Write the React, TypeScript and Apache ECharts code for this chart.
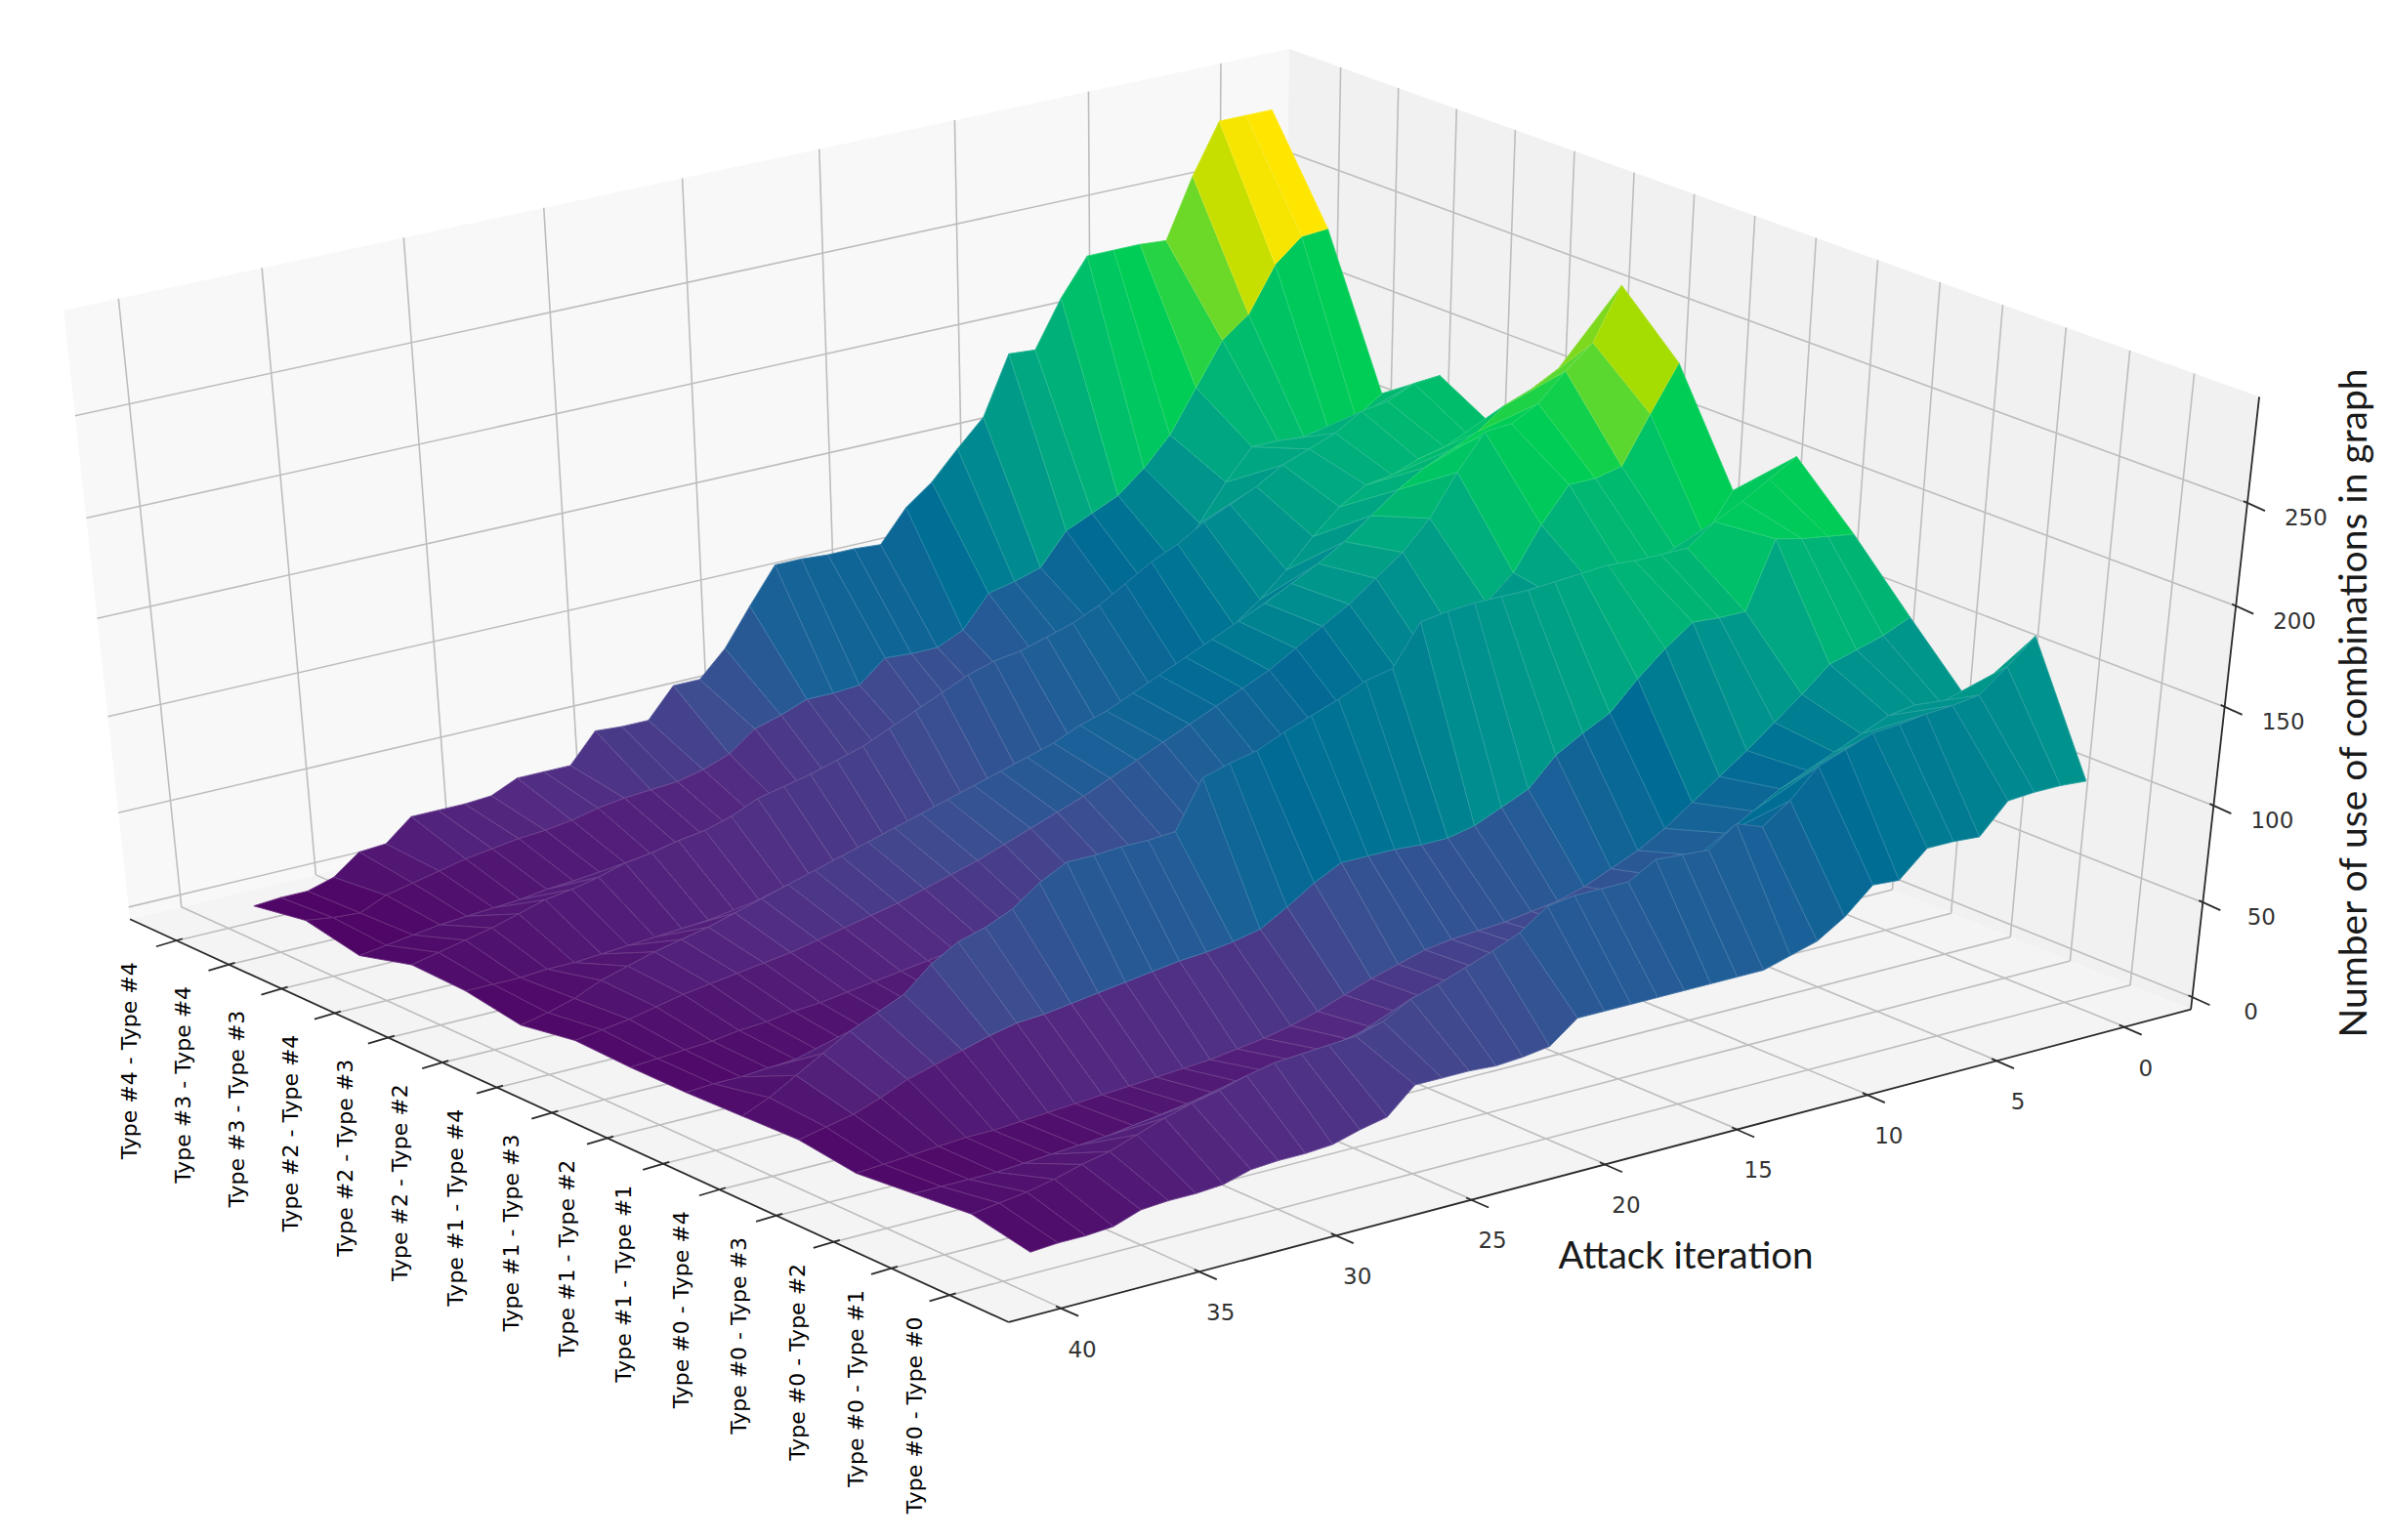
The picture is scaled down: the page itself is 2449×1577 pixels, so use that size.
import React, { useEffect, useRef } from "react";
import * as echarts from "echarts";

const categories = [
  "Type #0 - Type #0", "Type #0 - Type #1", "Type #0 - Type #2", "Type #0 - Type #3", "Type #0 - Type #4",
  "Type #1 - Type #1", "Type #1 - Type #2", "Type #1 - Type #3", "Type #1 - Type #4",
  "Type #2 - Type #2", "Type #2 - Type #3", "Type #2 - Type #4",
  "Type #3 - Type #3", "Type #3 - Type #4", "Type #4 - Type #4",
];
const iterTicks = [0, 5, 10, 15, 20, 25, 30, 35, 40];
const zTicks = [0, 50, 100, 150, 200, 250];

// Number of use per attack iteration (0..39), one list per combination
const c00 = [109,110,110,109,94,95,95,82,83,70,61,57,53,53,53,53,53,53,53,53,42,40,39,40,40,40,27,24,20,19,19,18,14,13,13,12,7,6,6,5];
const c01 = [170,158,147,145,144,142,141,136,131,117,107,112,102,103,104,96,96,96,94,84,78,73,68,64,56,52,51,50,49,46,42,39,35,30,25,22,18,15,13,11];
const c02 = [127,128,130,128,122,116,110,104,96,88,80,72,66,60,56,54,52,50,48,44,40,36,32,30,28,26,24,22,20,18,16,14,12,11,10,9,8,8,8,8];
const c03 = [156,150,146,142,130,119,108,98,88,78,70,64,58,54,52,50,49,48,46,42,38,33,28,24,21,19,17,16,15,14,13,12,11,10,9,9,8,7,6,5];
const c04 = [186,188,190,193,160,160,161,151,139,125,118,110,96,90,84,81,81,82,82,82,75,66,58,55,53,52,50,48,46,44,42,41,38,34,30,26,20,15,12,9];
const c11 = [213,205,197,190,180,180,180,181,180,179,178,178,178,177,175,155,152,146,141,136,130,127,123,99,98,98,97,97,90,80,74,70,62,50,44,38,30,22,14,8];
const c12 = [185,165,160,158,155,150,146,136,124,116,108,100,94,88,82,76,72,66,60,56,52,48,44,38,34,29,26,22,20,18,16,14,12,11,10,10,9,8,8,7];
const c13 = [237,215,192,189,189,172,151,139,122,114,108,100,94,88,82,76,70,65,60,55,50,46,42,38,35,32,29,26,24,22,20,18,16,15,13,12,10,9,8,7];
const c14 = [264,239,228,215,208,207,190,170,156,146,136,128,120,112,106,100,94,88,82,76,70,65,60,55,50,46,42,38,35,32,29,26,24,22,20,18,15,12,10,8];
const c22 = [212,205,200,190,184,178,170,160,150,142,135,128,122,116,110,104,98,92,88,82,78,74,70,66,62,58,54,50,46,42,38,34,30,27,24,20,16,10,6,3];
const c23 = [171,170,168,165,160,158,150,138,124,112,102,92,84,76,68,62,56,50,45,40,36,32,28,26,24,22,20,18,16,15,14,13,12,11,10,9,9,8,8,8];
const c24 = [187,186,180,178,170,165,160,152,146,140,132,126,118,110,104,100,96,94,90,84,78,72,66,62,58,55,52,46,42,40,37,35,31,28,26,22,18,15,12,9];
const c33 = [167,158,153,154,155,155,140,122,105,95,88,80,72,66,58,52,47,44,40,36,32,28,26,24,22,20,19,18,16,15,14,13,12,10,9,8,7,5,3,1];
const c34 = [239,238,227,205,195,174,153,139,128,122,116,100,96,93,77,71,71,72,61,60,60,55,51,41,36,33,32,31,29,26,24,23,21,19,16,13,10,4,5,7];
const c44 = [287,287,287,263,234,235,235,235,217,194,195,166,153,139,129,113,114,114,115,115,97,78,65,65,50,50,51,36,36,36,30,29,29,29,18,17,7,3,3,2];
const rows = [c00, c01, c02, c03, c04, c11, c12, c13, c14, c22, c23, c24, c33, c34, c44];

const W = 2449, H = 1577;
const iterRange = [-2.6, 41.9];
const comboRange = [-1.0, 14.9];
const zRange = [-6.5, 300.5];

// camera calibration: unit-box corner -> page pixel
const anchors = [
  [1, 1, 0, 133, 941], [1, 0, 0, 1033, 1354], [0, 0, 0, 2243, 1034],
  [1, 1, 1, 65, 318], [0, 0, 1, 2313, 406], [0, 1, 1, 1320, 50],
];

function solveCamera(): number[] {
  const n = 11;
  const A: number[][] = Array.from({ length: n }, () => new Array(n + 1).fill(0));
  const add = (r: number[], b: number) => {
    for (let i = 0; i < n; i++) {
      for (let j = 0; j < n; j++) A[i][j] += r[i] * r[j];
      A[i][n] += r[i] * b;
    }
  };
  for (const [X, Y, Z, px, py] of anchors) {
    const u = px / 1000, v = py / 1000;
    add([X, Y, Z, 1, 0, 0, 0, 0, -u * X, -u * Y, -u * Z], u);
    add([0, 0, 0, 0, X, Y, Z, 1, -v * X, -v * Y, -v * Z], v);
  }
  for (let i = 0; i < n; i++) {
    let m = i;
    for (let k = i + 1; k < n; k++) if (Math.abs(A[k][i]) > Math.abs(A[m][i])) m = k;
    [A[i], A[m]] = [A[m], A[i]];
    for (let k = 0; k < n; k++) {
      if (k === i) continue;
      const f = A[k][i] / A[i][i];
      for (let j = i; j <= n; j++) A[k][j] -= f * A[i][j];
    }
  }
  return A.map((r, i) => r[n] / r[i]);
}
const cam = solveCamera();

const frac = (v: number, r: number[]) => (v - r[0]) / (r[1] - r[0]);
function boxToPx(X: number, Y: number, Z: number): [number, number, number] {
  const w = cam[8] * X + cam[9] * Y + cam[10] * Z + 1;
  return [
    (1000 * (cam[0] * X + cam[1] * Y + cam[2] * Z + cam[3])) / w,
    (1000 * (cam[4] * X + cam[5] * Y + cam[6] * Z + cam[7])) / w,
    w,
  ];
}
const project = (iter: number, combo: number, z: number) =>
  boxToPx(frac(iter, iterRange), frac(combo, comboRange), frac(z, zRange));

const depthSign = boxToPx(0, 1, 0)[2] > boxToPx(1, 0, 0)[2] ? 1 : -1;

// saturated viridis-like ramp as seen in the picture
const ramp: [number, string][] = [
  [0, "#4f0565"], [0.1, "#532a82"], [0.2, "#3e4c90"], [0.3, "#1c6098"], [0.4, "#006c95"], [0.5, "#008f8f"],
  [0.6, "#00aa80"], [0.7, "#00c464"], [0.77, "#00cf52"], [0.83, "#5cd830"], [0.87, "#7ad820"], [0.91, "#a8dc00"],
  [0.94, "#d0e000"], [1, "#ffe600"],
];
const hex = (s: string) => [1, 3, 5].map((i) => parseInt(s.slice(i, i + 2), 16));
function rampColor(t: number): number[] {
  const v = Math.max(0, Math.min(1, t));
  let k = 0;
  while (k < ramp.length - 2 && v > ramp[k + 1][0]) k++;
  const a = hex(ramp[k][1]), b = hex(ramp[k + 1][1]);
  const f = (v - ramp[k][0]) / (ramp[k + 1][0] - ramp[k][0]);
  return a.map((x, i) => x + (b[i] - x) * f);
}
const css = (c: number[]) => `rgb(${c.map((v) => Math.round(v)).join(",")})`;

type Facet = { i: number; c: number; avg: number; depth: number };
function buildFacets(): Facet[] {
  const out: Facet[] = [];
  for (let c = 0; c < rows.length - 1; c++) {
    for (let i = 0; i < rows[c].length - 1; i++) {
      const zs = [rows[c][i], rows[c][i + 1], rows[c + 1][i + 1], rows[c + 1][i]];
      const avg = (zs[0] + zs[1] + zs[2] + zs[3]) / 4;
      const corners = [project(i, c, zs[0]), project(i + 1, c, zs[1]), project(i + 1, c + 1, zs[2]), project(i, c + 1, zs[3])];
      out.push({ i, c, avg, depth: corners.reduce((s, p) => s + p[2], 0) / 4 });
    }
  }
  return out.sort((a, b) => depthSign * (b.depth - a.depth));
}

type Seg = [number, number, number, number];
function gridSegments(): Seg[] {
  const segs: Seg[] = [];
  const push = (a: number[], b: number[]) => segs.push([a[0], a[1], b[0], b[1]]);
  const [i0, i1] = iterRange, [c0, c1] = comboRange, [z0, z1] = zRange;
  for (const t of iterTicks) {
    push(project(t, c0, z0), project(t, c1, z0));
    push(project(t, c1, z0), project(t, c1, z1));
  }
  categories.forEach((_, c) => {
    push(project(i1, c, z0), project(i0, c, z0));
    push(project(i0, c, z0), project(i0, c, z1));
  });
  for (const t of zTicks) {
    push(project(i1, c1, t), project(i0, c1, t));
    push(project(i0, c1, t), project(i0, c0, t));
  }
  return segs;
}

function axisSegments(): Seg[] {
  const segs: Seg[] = [];
  const [i0, i1] = iterRange, [c0, c1] = comboRange, [z0, z1] = zRange;
  const line = (a: number[], b: number[]) => segs.push([a[0], a[1], b[0], b[1]]);
  line(project(i1, c1, z0), project(i1, c0, z0));
  line(project(i1, c0, z0), project(i0, c0, z0));
  line(project(i0, c0, z0), project(i0, c0, z1));
  categories.forEach((_, c) => {
    const p = project(i1, c, z0);
    segs.push([p[0] - 21, p[1] + 6, p[0] + 6, p[1] - 2]);
  });
  iterTicks.forEach((t) => {
    const p = project(t, c0, z0);
    segs.push([p[0] - 6, p[1] - 2, p[0] + 17, p[1] + 8]);
  });
  zTicks.forEach((t) => {
    const p = project(i0, c0, t);
    segs.push([p[0] - 4, p[1] - 2, p[0] + 18, p[1] + 8]);
  });
  return segs;
}

function labels() {
  const font = "DejaVu Sans";
  const out: any[] = [];
  categories.forEach((name, c) => {
    const p = project(iterRange[1], c, zRange[0]);
    out.push({
      type: "text", x: p[0] - 36 - (c / 14) * 12, y: p[1] + 123, rotation: Math.PI / 2,
      style: { text: name, fontFamily: font, fontSize: 22, fill: "#000", textAlign: "center", textVerticalAlign: "middle" },
    });
  });
  iterTicks.forEach((t) => {
    const p = project(t, comboRange[0], zRange[0]);
    out.push({ type: "text", x: p[0] + 21, y: p[1] + 42, style: { text: String(t), fontFamily: font, fontSize: 23, fill: "#333", textAlign: "center", textVerticalAlign: "middle" } });
  });
  zTicks.forEach((t) => {
    const p = project(iterRange[0], comboRange[0], t);
    out.push({ type: "text", x: p[0] + 60, y: p[1] + 15, style: { text: String(t), fontFamily: font, fontSize: 23, fill: "#333", textAlign: "center", textVerticalAlign: "middle" } });
  });
  out.push({ type: "text", x: 1726, y: 1284, style: { text: "Attack iteration", fontFamily: "Lato", fontSize: 38.5, fill: "#1a1a1a", textAlign: "center", textVerticalAlign: "middle" } });
  out.push({ type: "text", x: 2408, y: 720, rotation: Math.PI / 2, style: { text: "Number of use of combinations in graph", fontFamily: "Lato", fontSize: 39, fill: "#1a1a1a", textAlign: "center", textVerticalAlign: "middle" } });
  return out;
}

export default function App() {
  const ref = useRef<HTMLDivElement>(null);
  useEffect(() => {
    document.body.style.margin = "0";
    document.body.style.overflow = "hidden";
    const chart = echarts.init(ref.current!, undefined, { renderer: "svg" });
    const [i0, i1] = iterRange, [c0, c1] = comboRange, [z0, z1] = zRange;
    const panes = [
      { pts: [[i1, c1, z0], [i0, c1, z0], [i0, c1, z1], [i1, c1, z1]], fill: "#f8f8f8" },
      { pts: [[i0, c1, z0], [i0, c0, z0], [i0, c0, z1], [i0, c1, z1]], fill: "#f1f1f1" },
      { pts: [[i1, c1, z0], [i1, c0, z0], [i0, c0, z0], [i0, c1, z0]], fill: "#f4f4f4" },
    ];
    const facets = buildFacets();
    const minAvg = Math.min(...facets.map((f) => f.avg));
    const maxAvg = Math.max(...facets.map((f) => f.avg));
    const grid = gridSegments();
    const axes = axisSegments();
    const segRender = (list: Seg[], stroke: string, lineWidth: number) => (params: any, api: any) => {
      const s = list[params.dataIndex];
      const a = api.coord([s[0], s[1]]), b = api.coord([s[2], s[3]]);
      return { type: "line", shape: { x1: a[0], y1: a[1], x2: b[0], y2: b[1] }, style: { stroke, lineWidth } };
    };
    chart.setOption({
      animation: false,
      grid: { left: 0, right: 0, top: 0, bottom: 0 },
      xAxis: { type: "value", min: 0, max: W, show: false },
      yAxis: { type: "value", min: 0, max: H, inverse: true, show: false },
      graphic: { elements: labels() },
      series: [
        {
          type: "custom", coordinateSystem: "cartesian2d", silent: true, clip: false, z: 1,
          data: panes.map((_, k) => [k, 0]),
          renderItem: (params: any, api: any) => {
            const pane = panes[params.dataIndex];
            return {
              type: "polygon",
              shape: { points: pane.pts.map((p) => { const q = project(p[0], p[1], p[2]); return api.coord([q[0], q[1]]); }) },
              style: { fill: pane.fill },
            };
          },
        },
        { type: "custom", coordinateSystem: "cartesian2d", silent: true, clip: false, z: 2, data: grid.map((_, k) => [k, 0]), renderItem: segRender(grid, "#bdbdbd", 1.6) },
        { type: "custom", coordinateSystem: "cartesian2d", silent: true, clip: false, z: 3, data: axes.map((_, k) => [k, 0]), renderItem: segRender(axes, "#2a2a2a", 1.8) },
        {
          type: "custom", coordinateSystem: "cartesian2d", silent: true, clip: false, z: 4,
          data: facets.map((f) => [f.i, f.c, f.avg]),
          renderItem: (params: any, api: any) => {
            const f = facets[params.dataIndex];
            const pts = [
              [f.i, f.c], [f.i + 1, f.c], [f.i + 1, f.c + 1], [f.i, f.c + 1],
            ].map(([i, c]) => {
              const q = project(i, c, rows[c][i]);
              return api.coord([q[0], q[1]]);
            });
            const col = rampColor((f.avg - minAvg) / (maxAvg - minAvg));
            const seam = col.map((v) => v + (255 - v) * 0.16);
            return { type: "polygon", shape: { points: pts }, style: { fill: css(col), stroke: css(seam), lineWidth: 0.9 } };
          },
        },
      ],
    });
    return () => chart.dispose();
  }, []);
  return <div ref={ref} style={{ width: W, height: H }} />;
}
